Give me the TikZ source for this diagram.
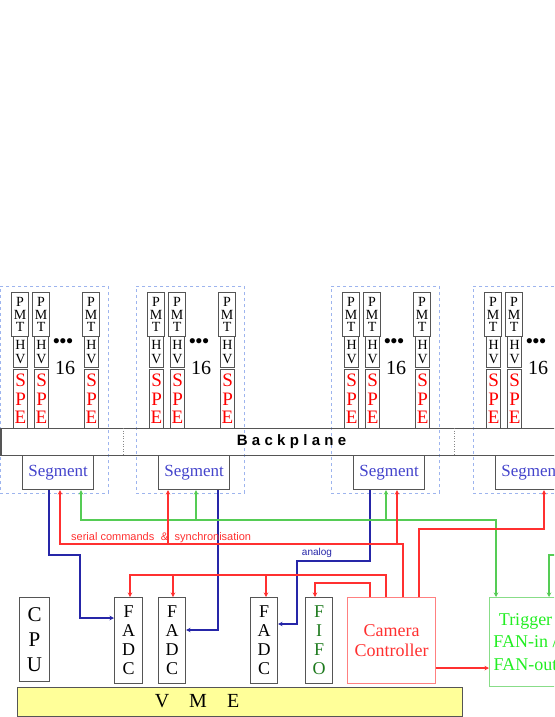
\documentclass[tikz,border=0pt]{standalone}
\usepackage{fontspec}
\setmainfont{Liberation Serif}
\setsansfont{Liberation Sans}
\usetikzlibrary{arrows.meta,calc}
\definecolor{boxgray}{HTML}{555555}
\definecolor{dashblue}{HTML}{9DB4EE}
\definecolor{lred}{HTML}{FF3030}
\definecolor{lgreen}{HTML}{55CC55}
\definecolor{lblue}{HTML}{2626A8}
\definecolor{segblue}{HTML}{4444CC}
\definecolor{fifogreen}{HTML}{1E7A1E}
\definecolor{trigtext}{HTML}{22EE22}
\definecolor{trigline}{HTML}{88DD88}
\definecolor{camline}{HTML}{FF8080}
\definecolor{vmefill}{HTML}{FFFF99}
\begin{document}
\begin{tikzpicture}[x=1pt,y=-1pt,
  box/.style={draw=boxgray, line width=1.1pt, inner sep=0pt, anchor=north west, align=center},
  dbox/.style={draw=dashblue, dashed, line width=0.6pt, inner sep=0pt, anchor=north west},
  conn/.style={line width=1.6pt},
  arr/.style={-{Stealth[length=4.5pt,width=4.5pt]}},
  rd/.style={conn, draw=lred},
  gn/.style={conn, draw=lgreen},
  bl/.style={conn, draw=lblue},
  pmtfont/.style={font=\fontsize{14}{12.5}\selectfont},
  hvfont/.style={font=\fontsize{14}{14}\selectfont},
  spefont/.style={font=\fontsize{19}{18.5}\selectfont, text=red},
  bigfont/.style={font=\fontsize{18}{19}\selectfont}]
\useasboundingbox (0,0) rectangle (554,717);
\clip (0,0) rectangle (554,717);

% groups of 16 PMTs
\foreach \bx/\g/\cols in {0/a/{11/1,32/2,82/3},136/b/{11/1,32/2,82/3},331/c/{11/1,32/2,82/3},473/d/{11/1,32/2}}{
  \node[dbox, minimum width=108pt, minimum height=207pt] (grp\g) at (\bx,286) {};
  \foreach \o/\k in \cols{
    \node[box, minimum width=17pt, minimum height=44pt, pmtfont] (pmt\g\k) at (\bx+\o,292) {P\\M\\T};
    \node[box, minimum width=14pt, minimum height=31pt, hvfont] (hv\g\k) at (\bx+\o+2,336) {H\\V};
    \node[box, minimum width=14pt, minimum height=59pt, spefont] (spe\g\k) at (\bx+\o+2,369) {S\\P\\E};
  }
  \node[inner sep=0pt, font=\sffamily\fontsize{19}{19}\selectfont] (dots\g) at (\bx+63,343) {•••};
  \node[inner sep=0pt, font=\fontsize{20}{20}\selectfont] (num\g) at (\bx+65,368) {16};
}

% backplane
\node[box, minimum width=620pt, minimum height=27pt] (bp) at (0.5,428) {};
\node[inner sep=0pt, font=\sffamily\bfseries\fontsize{15}{15}\selectfont] (bptext) at (291.5,442)
  {B\hspace{4.3pt}a\hspace{4.3pt}c\hspace{4.3pt}k\hspace{4.3pt}p\hspace{4.3pt}l\hspace{4.3pt}a\hspace{4.3pt}n\hspace{4.3pt}e};
\draw[boxgray!70, dotted, line width=0.6pt] ($(bp.north west)+(122.5,0)$) -- ($(bp.south west)+(122.5,0)$);
\draw[boxgray!70, dotted, line width=0.6pt] ($(bp.north west)+(453.5,0)$) -- ($(bp.south west)+(453.5,0)$);

% segments
\foreach \bx/\g in {0/a,136/b,331/c,473/d}{
  \node[box, fill=white, minimum width=71pt, minimum height=34pt, text=segblue,
        font=\fontsize{17}{17}\selectfont] (seg\g) at (\bx+22,455) {Segment};
}

% crate
\node[box, minimum width=30pt, minimum height=84pt, font=\fontsize{21}{25}\selectfont] (cpu) at (19,597) {C\\P\\U};
\node[box, minimum width=28pt, minimum height=86pt, bigfont] (fadc1) at (114,597) {F\\A\\D\\C};
\node[box, minimum width=27pt, minimum height=86pt, bigfont] (fadc2) at (158,597) {F\\A\\D\\C};
\node[box, minimum width=27pt, minimum height=86pt, bigfont] (fadc3) at (250,597) {F\\A\\D\\C};
\node[box, minimum width=27pt, minimum height=86pt, bigfont, text=fifogreen] (fifo) at (305,597) {F\\I\\F\\O};
\node[box, draw=camline, minimum width=88pt, minimum height=86pt, text=lred,
      font=\fontsize{18}{20}\selectfont] (cam) at (347,597) {Camera\\Controller};
\node[box, draw=trigline, minimum width=72pt, minimum height=89pt, text=trigtext,
      font=\fontsize{18}{22.5}\selectfont] (trig) at (489,597) {Trigger\\FAN-in /\\FAN-out};
\node[box, fill=vmefill, draw=boxgray, minimum width=445pt, minimum height=29pt] (vme) at (17,687) {};
\node[inner sep=0pt, font=\fontsize{20}{20}\selectfont] (vmetext) at (197,701) {V\hspace{20pt}M\hspace{20pt}E};

% blue analog lines
\draw[bl, arr] ($(sega.south west)+(27,0)$) -- ($(sega.south west)+(27,65)$) -| ($(fadc1.north west)+(-34,21)$) -- ($(fadc1.north west)+(0,21)$);
\draw[bl, arr] ($(segb.south west)+(60,0)$) |- ($(fadc2.north east)+(0,33)$);
\draw[bl, arr] ($(segc.south west)+(17,0)$) -- ($(segc.south west)+(17,71)$) -| ($(fadc3.north east)+(19,27)$) -- ($(fadc3.north east)+(0,27)$);
\node[inner sep=0pt, text=lblue, font=\sffamily\fontsize{10}{10}\selectfont] (analog) at (317,553) {analog};

% green trigger lines
\draw[gn, {Stealth[length=4.5pt,width=4.5pt]}-{Stealth[length=4.5pt,width=4.5pt]}] ($(sega.south west)+(59,0)$) -- ($(sega.south west)+(59,30)$) -| ($(trig.north west)+(7,0)$);
\draw[gn, arr] ($(segb.south west)+(38,30)$) -- ($(segb.south west)+(38,0)$);
\draw[gn, arr] ($(segc.south west)+(33,30)$) -- ($(segc.south west)+(33,0)$);
\coordinate (gin) at (570,555);
\draw[gn, arr] (gin) -| ($(trig.north west)+(60,0)$);

% red control lines
\draw[rd, arr] ($(cam.north west)+(56,0)$) |- ($(sega.south west)+(38,54)$) -- ($(sega.south west)+(38,0)$);
\draw[rd, arr] ($(segb.south west)+(10,54)$) -- ($(segb.south west)+(10,0)$);
\draw[rd, arr] ($(segc.south west)+(44,54)$) -- ($(segc.south west)+(44,0)$);
\node[inner sep=0pt, anchor=west, text=lred, font=\sffamily\fontsize{11}{11}\selectfont] (serial) at (71,537.5)
  {serial commands\hspace{6.5pt}\&\hspace{6.5pt}synchronisation};
\draw[rd, arr] ($(cam.north west)+(72,0)$) |- ($(segd.south west)+(49,39)$) -- ($(segd.south west)+(49,0)$);
\draw[rd, arr] ($(cam.north west)+(39,0)$) |- ($(fadc1.north west)+(16,-22)$) -- ($(fadc1.north west)+(16,0)$);
\draw[rd, arr] ($(fadc2.north west)+(15,-22)$) -- ($(fadc2.north west)+(15,0)$);
\draw[rd, arr] ($(fadc3.north west)+(16,-22)$) -- ($(fadc3.north west)+(16,0)$);
\draw[rd, arr] ($(cam.north west)+(23,0)$) |- ($(fifo.north west)+(10,-14)$) -- ($(fifo.north west)+(10,0)$);
\draw[rd, arr] ($(cam.south east)+(0,-16)$) -- ($(trig.south west)+(0,-19)$);
\end{tikzpicture}
\end{document}
